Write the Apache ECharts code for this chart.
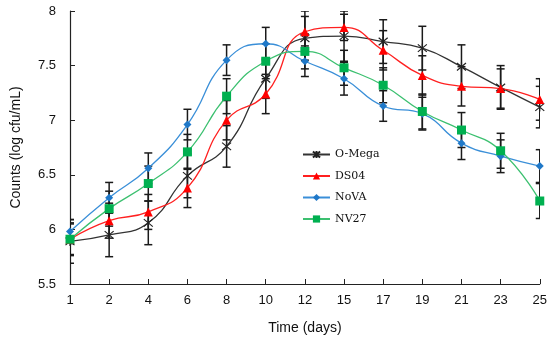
<!DOCTYPE html>
<html><head><meta charset="utf-8">
<script src="https://cdn.jsdelivr.net/npm/echarts@6/dist/echarts.min.js"></script>
<style>html,body{margin:0;padding:0;background:#fff}#c{width:550px;height:346px}</style>
</head><body><div id="c"></div>
<script>
const days = ['1','2','4','6','8','10','12','15','17','19','21','23','25'];
const omega = [5.89,5.95,6.06,6.49,6.76,7.38,7.75,7.77,7.72,7.66,7.49,7.30,7.12];
const ds04  = [5.91,6.08,6.16,6.38,7.00,7.24,7.81,7.85,7.64,7.41,7.31,7.29,7.19];
const nova  = [5.98,6.29,6.56,6.96,7.55,7.70,7.54,7.38,7.13,7.06,6.79,6.67,6.58];
const nv27  = [5.91,6.19,6.42,6.71,7.22,7.54,7.63,7.48,7.32,7.08,6.91,6.72,6.26];
const errOmega = [0.20,0.20,0.20,0.20,0.19,0.18,0.20,0.23,0.20,0.20,0.20,0.20,0.19];
const errDs04  = [0.15,0.16,0.16,0.18,0.18,0.18,0.19,0.12,0.18,0.18,0.18,0.18,0.19];
const errNova  = [0.11,0.14,0.14,0.14,0.14,0.15,0.14,0.15,0.14,0.15,0.15,0.15,0.15];
const errNv27  = [0.14,0.16,0.16,0.16,0.16,0.16,0.16,0.16,0.16,0.16,0.16,0.16,0.16];
const yTicks = {min:5.5, max:8, interval:0.5};

const chart = echarts.init(document.getElementById('c'), null, {renderer:'canvas'});
function errSeries(vals, errs){
  return {
    type:'custom', clip:true, z:3, silent:true,
    data: vals.map((v,i)=>[i, v-errs[i], v+errs[i]]),
    renderItem:function(params, api){
      const lo = api.coord([api.value(0), api.value(1)]);
      const hi = api.coord([api.value(0), api.value(2)]);
      const w = 4;
      const st = {stroke:'#1a1a1a', lineWidth:1.5};
      return {type:'group', children:[
        {type:'line', shape:{x1:lo[0],y1:lo[1],x2:hi[0],y2:hi[1]}, style:st},
        {type:'line', shape:{x1:lo[0]-w,y1:lo[1],x2:lo[0]+w,y2:lo[1]}, style:st},
        {type:'line', shape:{x1:hi[0]-w,y1:hi[1],x2:hi[0]+w,y2:hi[1]}, style:st}
      ]};
    }
  };
}
function lineSeries(name, vals, color, lineColor, symbol, size, extra){
  return Object.assign({
    name:name, type:'line', data:vals, smooth:true, z:5,
    symbol:symbol, symbolSize:size,
    lineStyle:{color:lineColor, width:1.3},
    itemStyle:{color:color}
  }, extra||{});
}
const star = 'path://M0,0L10,10M10,0L0,10M5,-1L5,11';
chart.setOption({
  animation:false,
  grid:{left:70, right:10, top:11, bottom:62},
  xAxis:{
    type:'category', data:days, boundaryGap:false,
    axisLine:{lineStyle:{color:'#222', width:1.2}},
    axisTick:{inside:true, length:5, alignWithLabel:true, lineStyle:{color:'#222'}},
    axisLabel:{color:'#111', fontFamily:'Arial, Liberation Sans', fontSize:13, margin:10},
    name:'Time (days)', nameLocation:'middle', nameGap:37,
    nameTextStyle:{color:'#111', fontFamily:'Arial, Liberation Sans', fontSize:14},
    splitLine:{show:false}
  },
  yAxis:{
    type:'value', min:yTicks.min, max:yTicks.max, interval:yTicks.interval,
    axisLine:{show:true, lineStyle:{color:'#222', width:1.2}},
    axisTick:{show:true, inside:true, length:5, lineStyle:{color:'#222'}},
    axisLabel:{color:'#111', fontFamily:'Arial, Liberation Sans', fontSize:13, margin:14},
    splitLine:{show:false},
    name:'Counts (log cfu/mL)', nameLocation:'middle', nameGap:47,
    nameTextStyle:{color:'#111', fontFamily:'Arial, Liberation Sans', fontSize:14}
  },
  legend:{
    orient:'vertical', left:297, top:144, itemWidth:27, itemHeight:9, itemGap:10.5,
    textStyle:{fontFamily:'DejaVu Serif', fontSize:11, color:'#111'},
    data:['O-Mega','DS04','NoVA','NV27']
  },
  series:[
    errSeries(omega, errOmega),
    errSeries(ds04, errDs04),
    errSeries(nova, errNova),
    errSeries(nv27, errNv27),
    lineSeries('O-Mega', omega, '#222', '#333', star, 9, {itemStyle:{color:'#222', borderColor:'#222', borderWidth:1.2}}),
    lineSeries('DS04', ds04, '#ff0000', '#ff2020', 'triangle', 9),
    lineSeries('NoVA', nova, '#1f78c8', '#3a8fd8', 'diamond', 8),
    lineSeries('NV27', nv27, '#00b050', '#3cc070', 'rect', 9)
  ]
});
</script></body></html>
